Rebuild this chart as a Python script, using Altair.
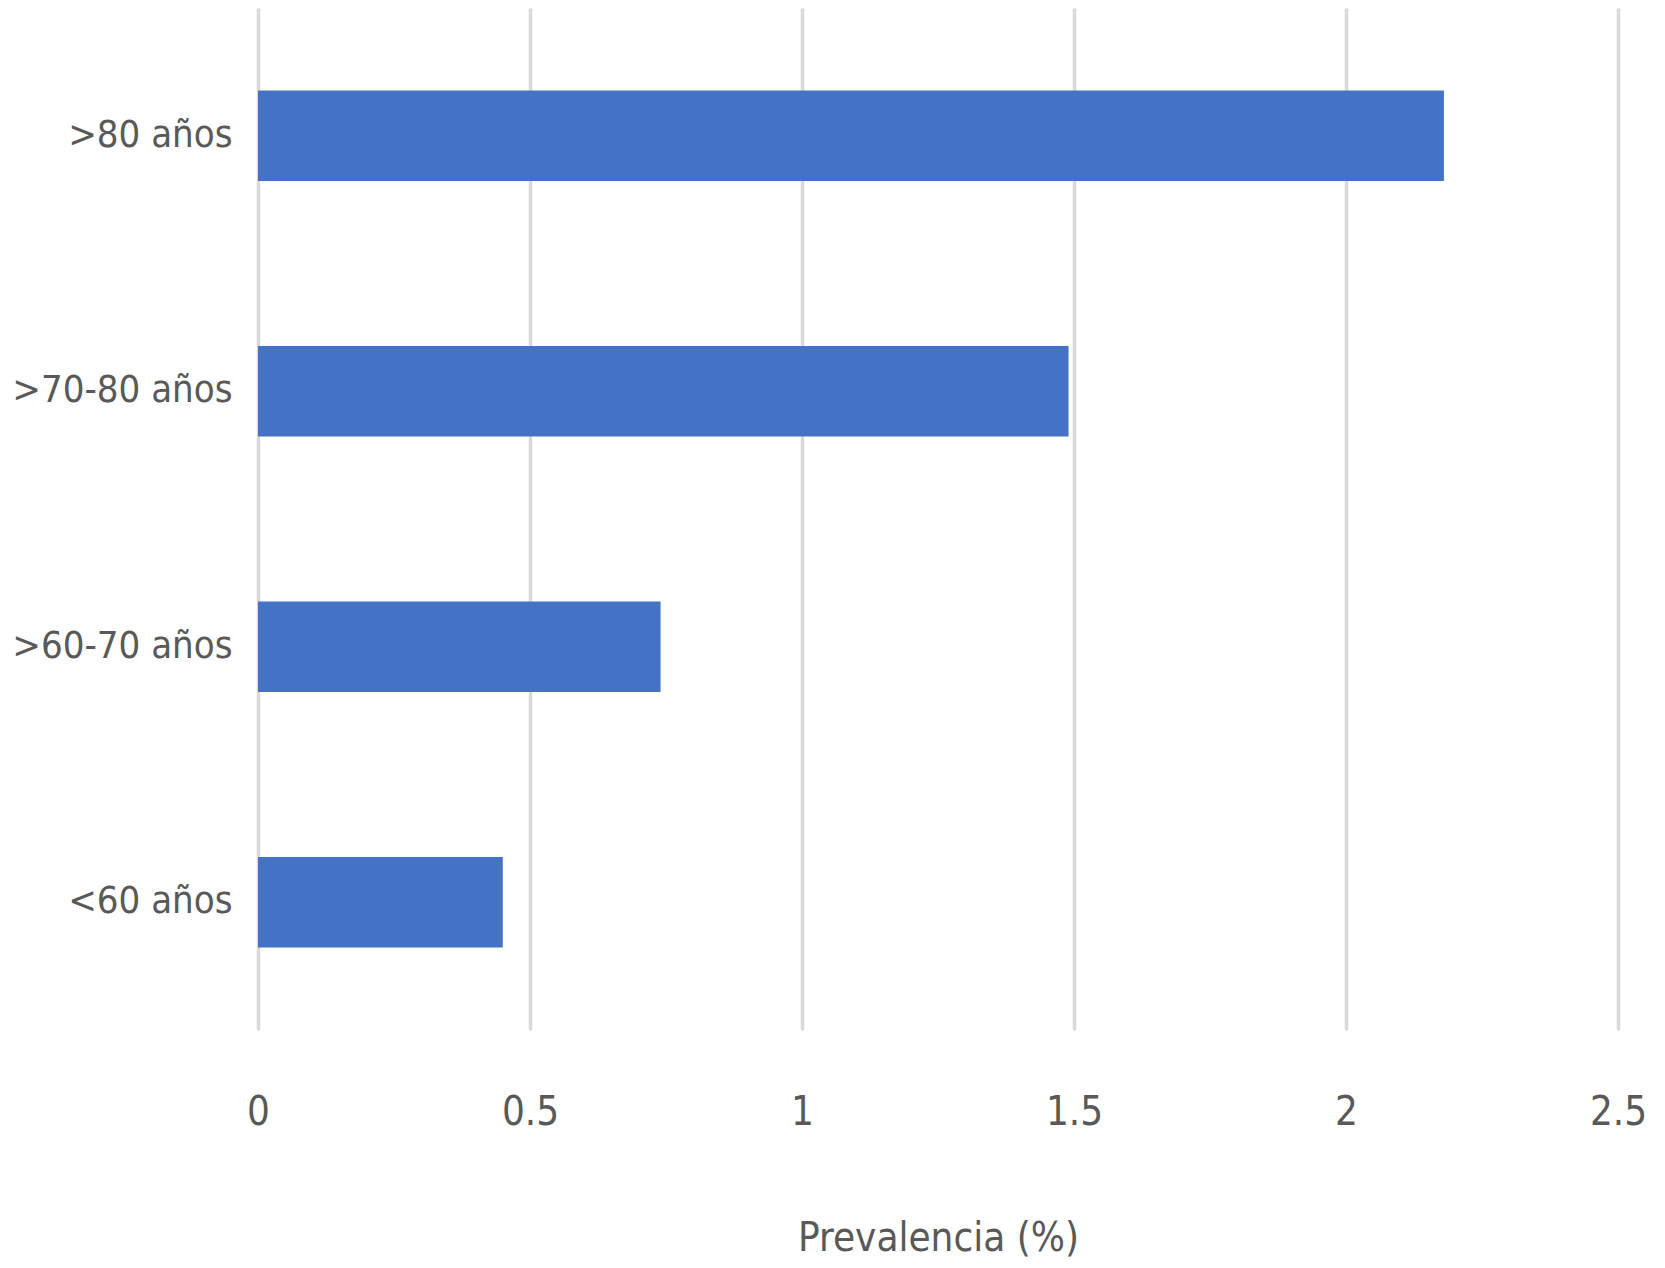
import altair as alt
import pandas as pd

categories = [">80 años", ">70-80 años", ">60-70 años", "<60 años"]
values = [2.18, 1.49, 0.74, 0.45]
x_ticks = [0, 0.5, 1, 1.5, 2, 2.5]

df = pd.DataFrame({"grupo": categories, "prev": values})

FONT = "DejaVu Sans Condensed, Liberation Sans Narrow, Liberation Sans, sans-serif"
TXT = "#595959"

chart = (
    alt.Chart(df)
    .mark_bar(color="#4472C4")
    .encode(
        x=alt.X(
            "prev:Q",
            scale=alt.Scale(domain=[0, 2.5], nice=False),
            axis=alt.Axis(
                title="Prevalencia (%)",
                values=x_ticks,
                format="~g",
                grid=True,
                gridColor="#D9D9D9",
                gridWidth=3.5,
                domain=False,
                ticks=False,
                labelFont=FONT,
                labelFontSize=40,
                labelColor=TXT,
                labelPadding=62,
                labelFlush=False,
                titleFont=FONT,
                titleFontSize=40,
                titleFontWeight="normal",
                titleColor=TXT,
                titlePadding=86,
            ),
        ),
        y=alt.Y(
            "grupo:N",
            sort=categories,
            scale=alt.Scale(paddingInner=0.646, paddingOuter=0.323),
            axis=alt.Axis(
                title=None,
                domain=False,
                ticks=False,
                grid=False,
                labelFont=FONT,
                labelFontSize=38,
                labelColor=TXT,
                labelPadding=26,
                labelLimit=0,
            ),
        ),
    )
    .properties(
        width=1360,
        height=1022,
        autosize=alt.AutoSizeParams(type="none"),
        padding={"left": 250, "top": 0, "right": 39, "bottom": 230},
    )
    .configure(background="white")
    .configure_view(stroke=None)
)

chart.save("out.html", embed_options={"renderer": "svg", "actions": False})
